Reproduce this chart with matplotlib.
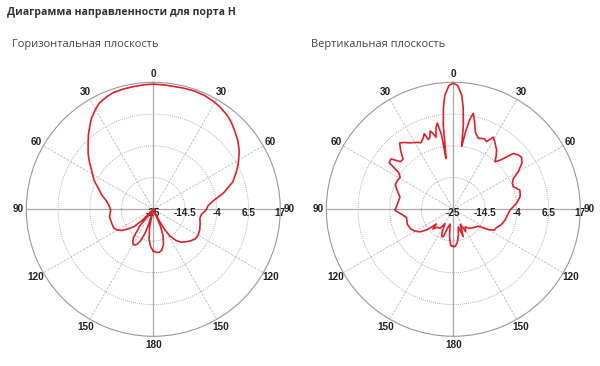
import numpy as np
import matplotlib.pyplot as plt

# Horizontal plane: angle (deg, clockwise from 0) and level (dB)
hor_deg = [-180, -176, -172, -168, -164.5, -163, -161, -158, -155, -152, -149, -145,
           -141, -137, -135, -132, -128, -124, -120, -115, -108, -100, -91, -85, -80,
           -75, -69, -64, -58, -54, -50, -45, -41, -37, -34, -30, -27, -23, -19, -14,
           -9, -4, 0, 5, 9, 14, 19, 24, 29, 33, 38, 42, 46, 51, 56, 62, 66, 71, 77, 82,
           86, 91, 96, 101, 107, 114, 120, 125, 130, 135, 140, 144, 148, 151, 153, 155,
           157, 160, 164, 168, 172, 176, 180]
hor_db = [-11.2, -12.5, -15, -19, -25, -20, -16.5, -13.8, -12.2, -11.6, -11.8, -13.5,
          -18, -25, -20, -16.5, -14.5, -12.5, -11.3, -10.5, -10.5, -10.3, -10.9, -10.3, -9.3,
          -7.5, -5.5, -3.2, -1.0, 1.0, 3.1, 5.5, 7.7, 9.8, 11.5, 13.2, 14.4, 15.2, 15.8, 16.0,
          16.1, 16.3, 16.4, 16.3, 16.2, 16.3, 16.4, 16.3, 15.9, 15.4, 14.6, 13.6, 12.4, 11.0, 9.3,
          6.8, 5.0, 2.8, -1.2, -5.0,
          -6.8, -7.6, -9.0, -9.3, -8.8, -8.2, -7.9, -8.0, -8.8, -9.8, -10.8, -12.3, -14.5, -17.5,
          -21, -25,
          -19, -15.5, -12.8, -11.3, -10.6, -10.7, -11.2]

# Vertical plane
ver_deg = [-180, -176, -172, -168, -164, -160, -157, -154, -150, -145, -138, -134,
           -131, -128, -124, -120, -115, -108, -100, -96, -91, -84, -77, -71, -67,
           -63, -59, -56, -54, -51, -48, -45, -42, -39, -36.5, -33, -29, -26, -23,
           -21, -19.7, -18, -16.5, -15, -13.5, -12, -10.5, -9, -8.2, -7.5, -6.8, -5.5,
           -4.2, -2, 0,
           2, 4.2, 5.5, 6.8, 7.4, 7.6, 9, 10.5, 11.8, 13.5, 16, 19.4, 21.8, 24, 26.2,
           29, 32, 36.1, 39, 41.2, 43.6, 47.1, 50, 52.6, 56, 60, 62.9, 66, 69.3, 73.9,
           76.8, 79.2, 84.6, 90.7, 96, 101.7, 108, 113, 117, 120, 124, 130, 136, 141,
           146, 151, 155, 160, 164, 169, 173, 177, 180]
ver_db = [-12.7, -13, -16, -20, -19, -15.4, -15.2, -16.5, -19.5, -17.3, -17, -15.6,
          -17.6, -14, -11.7, -10.5, -9.5, -9.0, -9.3, -8.0, -5.7, -6.5, -6.9, -5.3, -4.2,
          -4.2, -4.5, -3.2, 1.2, 1.5, -1.5, -1.5, 1.0, 3.2, 2.5, 1.2, 0.3, -0.5, 0.5,
          1.8, -0.5, 0, 2.0, 1.0, -0.5, 2.5, 4.0, 0, -8, -5, 3.1, 9,
          12.9, 16.0, 16.7,
          16.0, 12.9, 9, 3.1, -3.0, -4.0, 1, 5.5, 7.4, 5, 1.5, -0.1, 0.2, 0.5, -0.1,
          2.3, 1.0, -0.7, -2.5, -4.1, -2.6, 2.1, 3.0, 3.4, 2.4, -0.2, -2.7, -3.6, -3.8, -2.1,
          -2.3, -2.5, -4.0, -6.2, -7.0, -7.5, -8.4, -9.5, -9.8, -11.5, -15, -15.8, -16.3, -17,
          -18, -16.6, -19.5, -15.4, -19, -16.3, -14, -12.7, -12.7]

ring_vals = [-25, -14.5, -4, 6.5, 17]
ring_labels = ['-25', '-14.5', '-4', '6.5', '17']
angle_ticks = [0, 30, 60, 90, 120, 150, 180, 210, 240, 270, 300, 330]
angle_labels = ['0', '30', '60', '90', '120', '150', '180', '150', '120', '90', '60', '30']

RMIN, RMAX = -25, 17
RED = '#d8242d'


def draw_polar(ax, deg, db):
    ax.set_theta_zero_location('N')
    ax.set_theta_direction(-1)
    ax.set_ylim(RMIN, RMAX)
    ax.set_xticks([])
    ax.set_yticks([])
    ax.grid(False)
    ax.spines['polar'].set_color('#999999')
    ax.spines['polar'].set_linewidth(0.8)

    full = np.linspace(0, 2 * np.pi, 361)
    for v in ring_vals[1:-1]:
        ax.plot(full, np.full_like(full, v), ls=(0, (1, 1.5)), color='#999999', lw=0.6, zorder=1)
    for a in angle_ticks:
        if a % 90 == 0:
            ax.plot([np.radians(a)] * 2, [RMIN, RMAX], color='#aaaaaa', lw=0.9, zorder=1)
        else:
            ax.plot([np.radians(a)] * 2, [RMIN, RMAX], color='#bbbbbb', lw=0.6,
                    ls=(0, (3, 1.5)), zorder=1)

    # angle labels outside the circle
    for a, lab in zip(angle_ticks, angle_labels):
        ax.text(np.radians(a), 19.8, lab, ha='center', va='center', fontsize=7.2,
                fontweight='bold', family='Liberation Sans', color='#222222')

    # dB labels along the 90 deg axis
    for v, lab in zip(ring_vals, ring_labels):
        ax.annotate(lab, xy=(np.radians(90), v), xytext=(0, -3), textcoords='offset points',
                    ha='center', va='center', fontsize=7.2, fontweight='bold',
                    family='Liberation Sans', color='#222222', zorder=2)

    ax.plot(np.radians(deg), db, color=RED, lw=1.2, zorder=3)


fig = plt.figure(figsize=(6, 3.66), dpi=100)

fig.text(7 / 600, 1 - 12.5 / 366, 'Диаграмма направленности для порта H',
         fontsize=7.6, fontweight='bold', family='Open Sans', color='#333333', va='center')
fig.text(12 / 600, 1 - 44 / 366, 'Горизонтальная плоскость',
         fontsize=7.9, family='Open Sans', color='#444444', va='center')
fig.text(311 / 600, 1 - 44 / 366, 'Вертикальная плоскость',
         fontsize=7.9, family='Open Sans', color='#444444', va='center')

R = 127
ax1 = fig.add_axes([(153.3 - R) / 600, (366 - 209.3 - R) / 366, 2 * R / 600, 2 * R / 366],
                   projection='polar')
draw_polar(ax1, hor_deg, hor_db)

ax2 = fig.add_axes([(453.3 - R) / 600, (366 - 209.3 - R) / 366, 2 * R / 600, 2 * R / 366],
                   projection='polar')
draw_polar(ax2, ver_deg, ver_db)

fig.savefig('out.png', dpi=100)
